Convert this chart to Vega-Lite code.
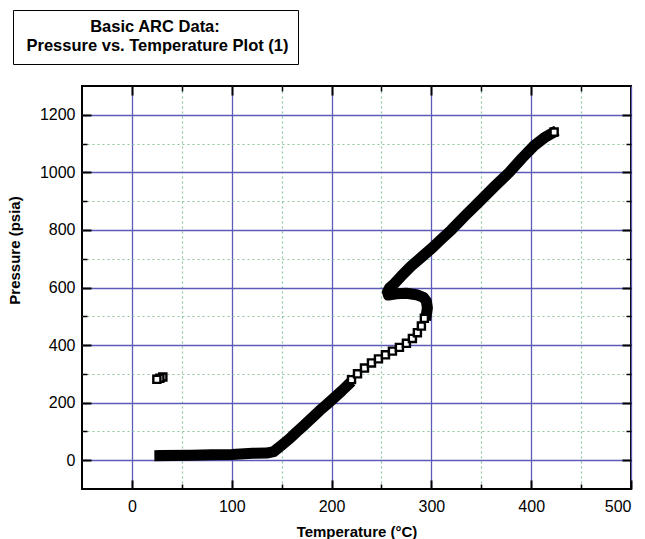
{
  "$schema": "https://vega.github.io/schema/vega-lite/v6.json",
  "padding": {"left": 7, "top": 9, "right": 5, "bottom": 0},
  "background": "white",
  "config": {"font": "Liberation Sans"},
  "width": 549,
  "height": 403,
  "view": {"stroke": "black", "strokeWidth": 2},
  "data": {"values": [
    {"s": "band", "seg": "A", "o": 1, "T": 28, "P": 16},
    {"s": "band", "seg": "A", "o": 2, "T": 60, "P": 17},
    {"s": "band", "seg": "A", "o": 3, "T": 80, "P": 19},
    {"s": "band", "seg": "A", "o": 4, "T": 100, "P": 20},
    {"s": "band", "seg": "A", "o": 5, "T": 121, "P": 24},
    {"s": "band", "seg": "A", "o": 6, "T": 135, "P": 25},
    {"s": "band", "seg": "A", "o": 7, "T": 142, "P": 30},
    {"s": "band", "seg": "A", "o": 8, "T": 150, "P": 52},
    {"s": "band", "seg": "A", "o": 9, "T": 158, "P": 75},
    {"s": "band", "seg": "A", "o": 10, "T": 165, "P": 98},
    {"s": "band", "seg": "A", "o": 11, "T": 173, "P": 123},
    {"s": "band", "seg": "A", "o": 12, "T": 180, "P": 146},
    {"s": "band", "seg": "A", "o": 13, "T": 188, "P": 172},
    {"s": "band", "seg": "A", "o": 14, "T": 195, "P": 193},
    {"s": "band", "seg": "A", "o": 15, "T": 202, "P": 215},
    {"s": "band", "seg": "A", "o": 16, "T": 210, "P": 240},
    {"s": "band", "seg": "A", "o": 17, "T": 216, "P": 260},
    {"s": "band", "seg": "B", "o": 1, "T": 295, "P": 505},
    {"s": "band", "seg": "B", "o": 2, "T": 296, "P": 530},
    {"s": "band", "seg": "B", "o": 3, "T": 295, "P": 552},
    {"s": "band", "seg": "B", "o": 4, "T": 292, "P": 566},
    {"s": "band", "seg": "B", "o": 5, "T": 285, "P": 575},
    {"s": "band", "seg": "B", "o": 6, "T": 275, "P": 580},
    {"s": "band", "seg": "B", "o": 7, "T": 265, "P": 578},
    {"s": "band", "seg": "B", "o": 8, "T": 257, "P": 574},
    {"s": "band", "seg": "B", "o": 9, "T": 256, "P": 585},
    {"s": "band", "seg": "B", "o": 10, "T": 258, "P": 598},
    {"s": "band", "seg": "B", "o": 11, "T": 263, "P": 614},
    {"s": "band", "seg": "B", "o": 12, "T": 270, "P": 640},
    {"s": "band", "seg": "B", "o": 13, "T": 280, "P": 675},
    {"s": "band", "seg": "B", "o": 14, "T": 290, "P": 705},
    {"s": "band", "seg": "B", "o": 15, "T": 301, "P": 738},
    {"s": "band", "seg": "B", "o": 16, "T": 310, "P": 768},
    {"s": "band", "seg": "B", "o": 17, "T": 320, "P": 800},
    {"s": "band", "seg": "B", "o": 18, "T": 334, "P": 850},
    {"s": "band", "seg": "B", "o": 19, "T": 348, "P": 898},
    {"s": "band", "seg": "B", "o": 20, "T": 363, "P": 950},
    {"s": "band", "seg": "B", "o": 21, "T": 378, "P": 1000},
    {"s": "band", "seg": "B", "o": 22, "T": 391, "P": 1050},
    {"s": "band", "seg": "B", "o": 23, "T": 403, "P": 1093},
    {"s": "band", "seg": "B", "o": 24, "T": 413, "P": 1120},
    {"s": "band", "seg": "B", "o": 25, "T": 421, "P": 1136},
    {"s": "sq", "seg": "S", "o": 1, "T": 220, "P": 280},
    {"s": "sq", "seg": "S", "o": 2, "T": 226, "P": 300},
    {"s": "sq", "seg": "S", "o": 3, "T": 233, "P": 320},
    {"s": "sq", "seg": "S", "o": 4, "T": 240, "P": 338},
    {"s": "sq", "seg": "S", "o": 5, "T": 247, "P": 352},
    {"s": "sq", "seg": "S", "o": 6, "T": 254, "P": 366},
    {"s": "sq", "seg": "S", "o": 7, "T": 261, "P": 379},
    {"s": "sq", "seg": "S", "o": 8, "T": 268, "P": 392},
    {"s": "sq", "seg": "S", "o": 9, "T": 275, "P": 406},
    {"s": "sq", "seg": "S", "o": 10, "T": 281, "P": 423},
    {"s": "sq", "seg": "S", "o": 11, "T": 286, "P": 443},
    {"s": "sq", "seg": "S", "o": 12, "T": 290, "P": 466},
    {"s": "sq", "seg": "S", "o": 13, "T": 293, "P": 493},
    {"s": "sq", "seg": "I", "o": 1, "T": 31, "P": 289},
    {"s": "sq", "seg": "I", "o": 2, "T": 28, "P": 285},
    {"s": "sq", "seg": "I", "o": 3, "T": 25, "P": 281},
    {"s": "sq", "seg": "E", "o": 1, "T": 423, "P": 1140}
  ]},
  "resolve": {"axis": {"x": "independent", "y": "independent"}},
  "layer": [
    {
      "transform": [{"filter": "datum.s === 'sq'"}],
      "mark": {"type": "point", "opacity": 0},
      "encoding": {
        "x": {"field": "T", "type": "quantitative", "scale": {"domain": [-50, 500], "nice": false, "zero": false},
          "axis": {"orient": "bottom", "values": [50, 150, 250, 350, 450], "grid": true, "gridColor": "#8cc79c", "gridDash": [2, 3], "gridWidth": 1.2, "gridOpacity": 1, "ticks": true, "tickSize": -5, "tickColor": "black", "tickWidth": 1.5, "labels": false, "domain": false, "title": null}},
        "y": {"field": "P", "type": "quantitative", "scale": {"domain": [-100, 1300], "nice": false, "zero": false},
          "axis": {"orient": "left", "values": [100, 300, 500, 700, 900, 1100], "grid": true, "gridColor": "#8cc79c", "gridDash": [2, 3], "gridWidth": 1.2, "gridOpacity": 1, "ticks": true, "tickSize": -5, "tickColor": "black", "tickWidth": 1.5, "labels": false, "domain": false, "title": null}},
        "color": {"datum": "Pressure vs. Temperature Plot (1)", "type": "nominal",
          "legend": {"orient": "none", "legendX": -69, "legendY": -76,
            "title": "Basic ARC Data:",
            "titleFontSize": 16.5, "titleFontWeight": "bold", "titleColor": "black", "titleAlign": "center", "titleAnchor": "middle", "titleLimit": 500, "titlePadding": 2,
            "labelFontSize": 16.5, "labelFontWeight": "bold", "labelColor": "black", "labelLimit": 500, "labelOffset": -12,
            "symbolSize": 0, "symbolOpacity": 0, "symbolStrokeWidth": 0,
            "padding": 9, "strokeColor": "black", "fillColor": "white"}}
      }
    },
    {
      "transform": [{"filter": "datum.s === 'sq'"}],
      "mark": {"type": "point", "opacity": 0},
      "encoding": {
        "x": {"field": "T", "type": "quantitative",
          "axis": {"orient": "top", "values": [50, 150, 250, 350, 450], "grid": false, "ticks": true, "tickSize": -5, "tickColor": "black", "tickWidth": 1.5, "labels": false, "domain": false, "title": null}},
        "y": {"field": "P", "type": "quantitative",
          "axis": {"orient": "right", "values": [100, 300, 500, 700, 900, 1100], "grid": false, "ticks": true, "tickSize": -5, "tickColor": "black", "tickWidth": 1.5, "labels": false, "domain": false, "title": null}}
      }
    },
    {
      "transform": [{"filter": "datum.s === 'sq'"}],
      "mark": {"type": "point", "opacity": 0},
      "encoding": {
        "x": {"field": "T", "type": "quantitative",
          "axis": {"orient": "top", "values": [0, 100, 200, 300, 400], "grid": false, "ticks": true, "tickSize": -9, "tickColor": "black", "tickWidth": 2, "labels": false, "domain": false, "title": null}},
        "y": {"field": "P", "type": "quantitative",
          "axis": {"orient": "right", "values": [0, 200, 400, 600, 800, 1000, 1200], "grid": false, "ticks": true, "tickSize": -9, "tickColor": "black", "tickWidth": 2, "labels": false, "domain": false, "title": null}}
      }
    },
    {
      "transform": [{"filter": "datum.s === 'band'"}],
      "mark": {"type": "line", "color": "black", "strokeWidth": 11, "strokeCap": "square", "strokeJoin": "round"},
      "encoding": {
        "x": {"field": "T", "type": "quantitative",
          "axis": {"orient": "bottom", "values": [0, 100, 200, 300, 400, 500], "format": "d", "grid": true, "gridColor": "#5c5cb8", "gridWidth": 1.3, "gridOpacity": 1, "ticks": true, "tickSize": -9, "tickColor": "black", "tickWidth": 2, "domain": false, "labelFontSize": 16, "labelColor": "black", "labelPadding": 18, "title": "Temperature (°C)", "titleFontSize": 15, "titleFontWeight": "bold", "titleColor": "black", "titlePadding": 10}},
        "y": {"field": "P", "type": "quantitative",
          "axis": {"orient": "left", "values": [0, 200, 400, 600, 800, 1000, 1200], "format": "d", "grid": true, "gridColor": "#5c5cb8", "gridWidth": 1.3, "gridOpacity": 1, "ticks": true, "tickSize": -9, "tickColor": "black", "tickWidth": 2, "domain": false, "labelFontSize": 16, "labelColor": "black", "labelPadding": 16, "title": "Pressure (psia)", "titleFontSize": 15, "titleFontWeight": "bold", "titleColor": "black", "titlePadding": 17, "titleY": 164}},
        "detail": {"field": "seg"},
        "order": {"field": "o"}
      }
    },
    {
      "transform": [{"filter": "datum.s === 'sq'"}],
      "mark": {"type": "point", "shape": "square", "size": 50, "filled": true, "fill": "white", "stroke": "black", "strokeWidth": 2.4, "opacity": 1},
      "encoding": {
        "x": {"field": "T", "type": "quantitative", "axis": null},
        "y": {"field": "P", "type": "quantitative", "axis": null}
      }
    }
  ]
}
